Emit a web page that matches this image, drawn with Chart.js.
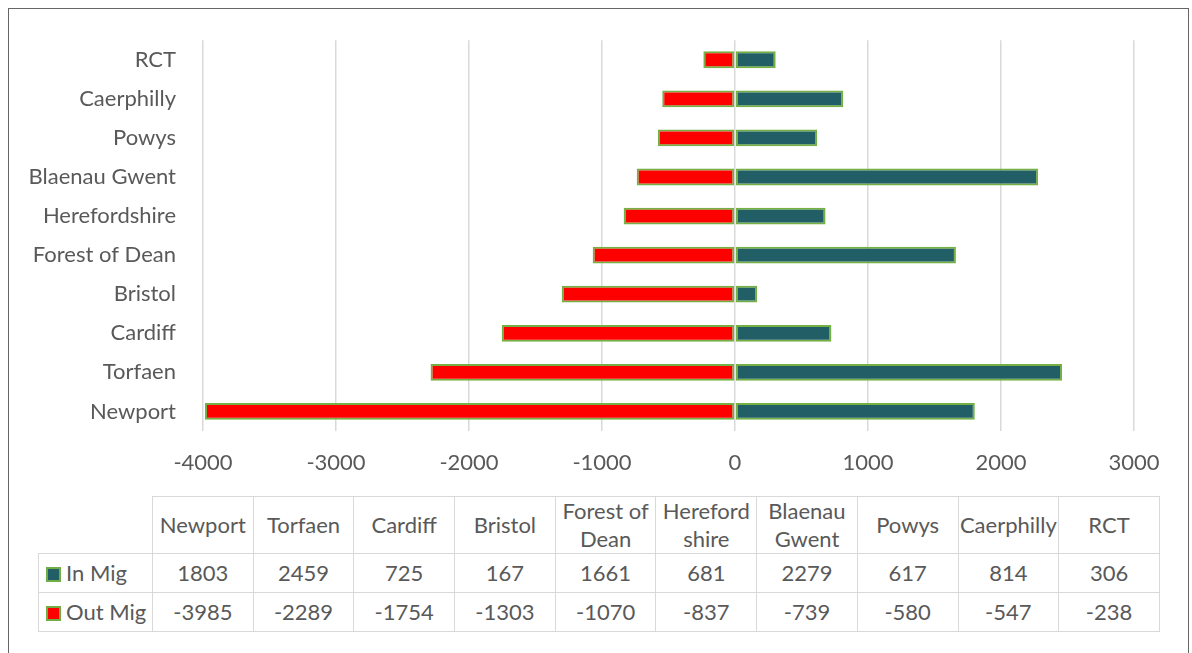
<!DOCTYPE html>
<html><head><meta charset="utf-8">
<script src="https://cdn.jsdelivr.net/npm/chart.js@4.4.1/dist/chart.umd.min.js"></script>
<style>
html,body{margin:0;padding:0;background:#fff;}
#wrap{position:relative;width:1192px;height:653px;overflow:hidden;font-family:Lato,sans-serif;color:#595959;background:#fff;}
#frame{position:absolute;left:8px;top:8px;width:1181px;height:700px;border:1px solid #666;box-sizing:border-box;}
#cv{position:absolute;left:0;top:0;}
#tbl{position:absolute;left:38px;top:496px;border-collapse:collapse;table-layout:fixed;font-size:22px;font-family:Lato,sans-serif;}
#tbl td{border:1px solid #d9d9d9;text-align:center;padding:0;color:#595959;line-height:28px;white-space:nowrap;overflow:visible;}
#tbl td.leg{text-align:left;padding-left:7px;}
#tbl td.blank{border-top:none;border-left:none;}
.key{display:inline-block;width:15px;height:15px;box-sizing:border-box;border:2px solid #70AD47;vertical-align:-1px;margin-right:5px;}
</style></head>
<body>
<div id="wrap">
  <div id="frame"></div>
  <canvas id="cv" width="1192" height="490" style="width:1192px;height:490px"></canvas>
  <table id="tbl"></table>
</div>
<script>
const categories = ['Newport','Torfaen','Cardiff','Bristol','Forest of Dean','Herefordshire','Blaenau Gwent','Powys','Caerphilly','RCT'];
const tableHeaders = [['Newport'],['Torfaen'],['Cardiff'],['Bristol'],['Forest of','Dean'],['Hereford','shire'],['Blaenau','Gwent'],['Powys'],['Caerphilly'],['RCT']];
const inMig = [1803,2459,725,167,1661,681,2279,617,814,306];
const outMig = [-3985,-2289,-1754,-1303,-1070,-837,-739,-580,-547,-238];
const seriesNames = ['In Mig','Out Mig'];
const seriesColors = ['#215E66','#FF0000'];
const borderColor = '#74B043';
const xMin = -4000, xMax = 3000, xStep = 1000;

const FONT = {family:'Lato, sans-serif', size:22};
const TXT = '#595959';

new Chart(document.getElementById('cv'), {
  type:'bar',
  data:{
    labels: categories,
    datasets:[
      {label:seriesNames[0], data:inMig, backgroundColor:seriesColors[0], borderColor:borderColor, borderWidth:2, borderSkipped:false},
      {label:seriesNames[1], data:outMig, backgroundColor:seriesColors[1], borderColor:borderColor, borderWidth:2, borderSkipped:false}
    ]
  },
  options:{
    indexAxis:'y',
    responsive:false,
    animation:false,
    devicePixelRatio:1,
    layout:{padding:{top:37,right:58,left:0,bottom:0}},
    datasets:{bar:{categoryPercentage:1, barPercentage:0.43}},
    plugins:{legend:{display:false}, tooltip:{enabled:false}},
    scales:{
      x:{
        stacked:true, min:xMin, max:xMax,
        ticks:{stepSize:xStep, color:TXT, font:FONT, padding:19, maxRotation:0, callback:v=>String(v)},
        grid:{color:'#d9d9d9', lineWidth:1.5, drawTicks:false},
        border:{display:false},
        afterFit(s){ s.height = 59; }
      },
      y:{
        stacked:true, reverse:true,
        ticks:{color:TXT, font:FONT, padding:27, autoSkip:false},
        grid:{display:false, drawTicks:false},
        border:{display:false},
        afterFit(s){ s.width = 203; }
      }
    }
  }
});

// data table
const tbl = document.getElementById('tbl');
const colg = document.createElement('colgroup');
let c0 = document.createElement('col'); c0.style.width='114px'; colg.appendChild(c0);
for(let i=0;i<categories.length;i++){ const c=document.createElement('col'); c.style.width='100.7px'; colg.appendChild(c); }
tbl.appendChild(colg);
const hr = document.createElement('tr'); hr.style.height='57px';
const blank = document.createElement('td'); blank.className='blank'; hr.appendChild(blank);
tableHeaders.forEach(h=>{ const td=document.createElement('td'); td.innerHTML=h.join('<br>'); hr.appendChild(td); });
tbl.appendChild(hr);
[inMig,outMig].forEach((arr,si)=>{
  const tr=document.createElement('tr'); tr.style.height='39px';
  const lt=document.createElement('td'); lt.className='leg';
  lt.innerHTML='<span class="key" style="background:'+seriesColors[si]+'"></span>'+seriesNames[si];
  tr.appendChild(lt);
  arr.forEach(v=>{ const td=document.createElement('td'); td.textContent=String(v); tr.appendChild(td); });
  tbl.appendChild(tr);
});
</script>
</body></html>
